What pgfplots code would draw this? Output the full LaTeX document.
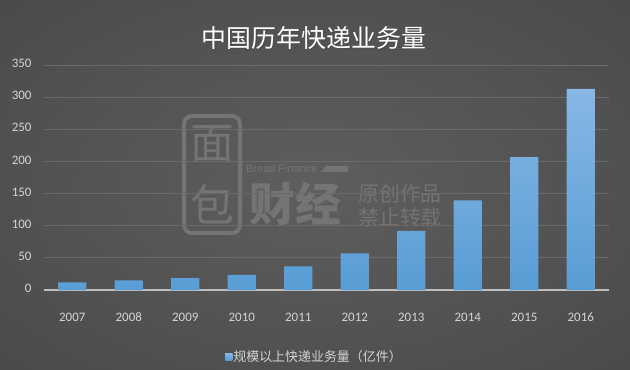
\documentclass[border=0pt]{standalone}
\usepackage{pgfplots}
\pgfplotsset{compat=1.18}
\usepackage{fontspec}
\setmainfont{Carlito}[Numbers=Lining]
\newfontfamily\cjk{Noto Sans CJK SC}
\newfontfamily\arialf{Liberation Sans}
\definecolor{bgin}{HTML}{5E5E5E}
\definecolor{bgmid}{HTML}{424242}
\definecolor{bgout}{HTML}{2E2E2E}
\definecolor{gridc}{HTML}{6A6A6A}
\definecolor{axisc}{HTML}{BEBEBE}
\definecolor{labc}{HTML}{D4D4D4}
\definecolor{barTop}{HTML}{88B7E5}
\definecolor{barBot}{HTML}{589DD5}
\definecolor{wm}{HTML}{747474}
\pgfdeclareradialshading{bgshade}{\pgfpoint{0bp}{0bp}}{color(0bp)=(bgin); color(50bp)=(bgmid); color(71bp)=(bgout); color(80bp)=(bgout)}
\begin{document}
\begin{tikzpicture}
\useasboundingbox (0,0) rectangle (630bp,370bp);
\shade[shading=bgshade] (0,0) rectangle (630bp,370bp);
% watermark
\draw[wm, line width=4bp, rounded corners=8bp] (184bp,137bp) rectangle (240bp,254bp);
\node[wm, font=\cjk\fontsize{44}{44}\selectfont] at (212bp,226bp) {面};
\node[wm, font=\cjk\fontsize{44}{44}\selectfont] at (212bp,166bp) {包};
\node[wm, font=\arialf\fontsize{11}{11}\selectfont, anchor=west, inner sep=0pt] at (246bp,201bp) {Bread Finance};
\fill[wm] (321bp,198bp) -- (348bp,198bp) -- (348bp,204bp) -- (326bp,204bp) -- cycle;
\node[wm, font=\cjk\bfseries\fontsize{46}{46}\selectfont] at (295bp,166bp) {财经};
\node[wm, font=\cjk\fontsize{21}{21}\selectfont, anchor=west, inner sep=0pt] at (358bp,176bp) {原创作品};
\node[wm, font=\cjk\fontsize{21}{21}\selectfont, anchor=west, inner sep=0pt] at (358bp,152bp) {禁止转载};
% title
\node[black!70, font=\cjk\fontsize{25}{25}\selectfont] at (315bp,330.5bp) {中国历年快递业务量};
\node[white, font=\cjk\fontsize{25}{25}\selectfont] at (314bp,332bp) {中国历年快递业务量};
\begin{axis}[
  at={(44bp,80bp)}, anchor=south west,
  scale only axis, width=565bp, height=225bp,
  xmin=-0.5, xmax=9.5, ymin=0, ymax=350,
  xtick={0,1,2,3,4,5,6,7,8,9},
  xticklabels={2007,2008,2009,2010,2011,2012,2013,2014,2015,2016},
  ytick={50,100,150,200,250,300,350},
  extra y ticks={0},
  extra y tick style={grid style={color=axisc, line width=2.2bp}},
  ymajorgrids, grid style={color=gridc, line width=0.9bp},
  axis line style={draw=none},
  major tick length=0pt,
  tick label style={font=\fontsize{13}{13}\selectfont, color=labc},
  /pgf/number format/assume math mode=true,
  typeset ticklabels with strut,
  xticklabel style={yshift=-19bp},
  yticklabel style={xshift=-9bp},
  clip=false,
  legend style={at={(0.478,-0.297)}, anchor=center, draw=none, fill=none,
    font=\cjk\fontsize{13}{13}\selectfont, text=labc, inner sep=0pt,
    nodes={inner sep=1bp}},
]
\addplot[ybar, bar width=0.5, draw=none, top color=barTop, bottom color=barBot,
  legend image code/.code={\fill[barBot] (0bp,-3.5bp) rectangle (7bp,3.5bp);}]
  coordinates {(0,12.0)(1,15.1)(2,18.6)(3,23.4)(4,36.7)(5,56.9)(6,91.9)(7,139.6)(8,206.7)(9,312.8)};
\addlegendentry{规模以上快递业务量（亿件）}
\end{axis}
\end{tikzpicture}
\end{document}
